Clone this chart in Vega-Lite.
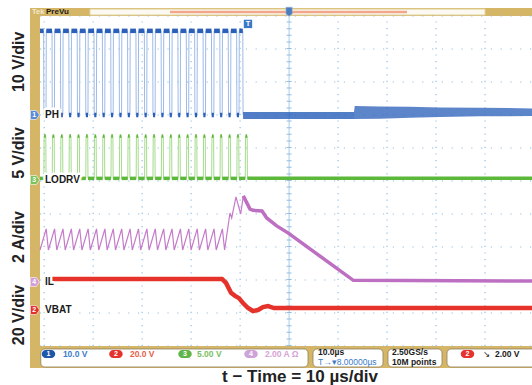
{
"$schema": "https://vega.github.io/schema/vega-lite/v6.json",
"width": 532, "height": 385,
"autosize": {"type": "none"},
"padding": 0,
"background": "#ffffff",
"config": {"view": {"stroke": null}, "axis": {"disable": true}, "legend": {"disable": true}},
"data": {"values": [{}]},
"datasets": {
"vgrid": [{"t":-50},{"t":-40},{"t":-30},{"t":-20},{"t":-10},{"t":10},{"t":20},{"t":30},{"t":40}],
"hgrid": [{"v":0},{"v":1},{"v":2},{"v":3},{"v":4},{"v":5},{"v":6},{"v":7},{"v":8},{"v":9},{"v":10}],
"ph": [
{"t":-50.85,"v":9.55},
{"t":-50.11,"v":9.55},{"t":-50.06,"v":7.0},{"t":-49.62,"v":7.0},{"t":-49.57,"v":9.55},
{"t":-48.40,"v":9.55},{"t":-48.35,"v":7.0},{"t":-47.91,"v":7.0},{"t":-47.86,"v":9.55},
{"t":-46.68,"v":9.55},{"t":-46.63,"v":7.0},{"t":-46.19,"v":7.0},{"t":-46.14,"v":9.55},
{"t":-44.97,"v":9.55},{"t":-44.92,"v":7.0},{"t":-44.48,"v":7.0},{"t":-44.43,"v":9.55},
{"t":-43.26,"v":9.55},{"t":-43.21,"v":7.0},{"t":-42.77,"v":7.0},{"t":-42.72,"v":9.55},
{"t":-41.55,"v":9.55},{"t":-41.50,"v":7.0},{"t":-41.06,"v":7.0},{"t":-41.01,"v":9.55},
{"t":-39.83,"v":9.55},{"t":-39.78,"v":7.0},{"t":-39.34,"v":7.0},{"t":-39.29,"v":9.55},
{"t":-38.12,"v":9.55},{"t":-38.07,"v":7.0},{"t":-37.63,"v":7.0},{"t":-37.58,"v":9.55},
{"t":-36.41,"v":9.55},{"t":-36.36,"v":7.0},{"t":-35.92,"v":7.0},{"t":-35.87,"v":9.55},
{"t":-34.69,"v":9.55},{"t":-34.64,"v":7.0},{"t":-34.20,"v":7.0},{"t":-34.15,"v":9.55},
{"t":-32.98,"v":9.55},{"t":-32.93,"v":7.0},{"t":-32.49,"v":7.0},{"t":-32.44,"v":9.55},
{"t":-31.27,"v":9.55},{"t":-31.22,"v":7.0},{"t":-30.78,"v":7.0},{"t":-30.73,"v":9.55},
{"t":-29.55,"v":9.55},{"t":-29.50,"v":7.0},{"t":-29.06,"v":7.0},{"t":-29.01,"v":9.55},
{"t":-27.84,"v":9.55},{"t":-27.79,"v":7.0},{"t":-27.35,"v":7.0},{"t":-27.30,"v":9.55},
{"t":-26.13,"v":9.55},{"t":-26.08,"v":7.0},{"t":-25.64,"v":7.0},{"t":-25.59,"v":9.55},
{"t":-24.42,"v":9.55},{"t":-24.37,"v":7.0},{"t":-23.93,"v":7.0},{"t":-23.88,"v":9.55},
{"t":-22.70,"v":9.55},{"t":-22.65,"v":7.0},{"t":-22.21,"v":7.0},{"t":-22.16,"v":9.55},
{"t":-20.99,"v":9.55},{"t":-20.94,"v":7.0},{"t":-20.50,"v":7.0},{"t":-20.45,"v":9.55},
{"t":-19.28,"v":9.55},{"t":-19.23,"v":7.0},{"t":-18.79,"v":7.0},{"t":-18.74,"v":9.55},
{"t":-17.56,"v":9.55},{"t":-17.51,"v":7.0},{"t":-17.07,"v":7.0},{"t":-17.02,"v":9.55},
{"t":-15.85,"v":9.55},{"t":-15.80,"v":7.0},{"t":-15.36,"v":7.0},{"t":-15.31,"v":9.55},
{"t":-14.14,"v":9.55},{"t":-14.09,"v":7.0},{"t":-13.65,"v":7.0},{"t":-13.60,"v":9.55},
{"t":-12.42,"v":9.55},{"t":-12.37,"v":7.0},{"t":-11.93,"v":7.0},{"t":-11.88,"v":9.55},
{"t":-10.71,"v":9.55},{"t":-10.66,"v":7.0},{"t":-10.22,"v":7.0},{"t":-10.17,"v":9.55},
{"t":-9.45,"v":9.55},{"t":-9.40,"v":7.0}
],
"phband": [
{"t":-9.40,"lo":6.88,"hi":7.09},
{"t":13.25,"lo":6.88,"hi":7.09},
{"t":13.40,"lo":6.88,"hi":7.27},
{"t":18.56,"lo":6.89,"hi":7.26},
{"t":24.68,"lo":6.92,"hi":7.25},
{"t":30.81,"lo":6.94,"hi":7.23},
{"t":38.97,"lo":6.96,"hi":7.22},
{"t":49.59,"lo":6.97,"hi":7.20}
],
"lodrv": [
{"t":-50.85,"v":5.08},
{"t":-50.06,"v":5.08},{"t":-50.01,"v":6.36},{"t":-49.67,"v":6.36},{"t":-49.62,"v":5.08},
{"t":-48.35,"v":5.08},{"t":-48.30,"v":6.36},{"t":-47.96,"v":6.36},{"t":-47.91,"v":5.08},
{"t":-46.63,"v":5.08},{"t":-46.58,"v":6.36},{"t":-46.24,"v":6.36},{"t":-46.19,"v":5.08},
{"t":-44.92,"v":5.08},{"t":-44.87,"v":6.36},{"t":-44.53,"v":6.36},{"t":-44.48,"v":5.08},
{"t":-43.21,"v":5.08},{"t":-43.16,"v":6.36},{"t":-42.82,"v":6.36},{"t":-42.77,"v":5.08},
{"t":-41.50,"v":5.08},{"t":-41.45,"v":6.36},{"t":-41.11,"v":6.36},{"t":-41.06,"v":5.08},
{"t":-39.78,"v":5.08},{"t":-39.73,"v":6.36},{"t":-39.39,"v":6.36},{"t":-39.34,"v":5.08},
{"t":-38.07,"v":5.08},{"t":-38.02,"v":6.36},{"t":-37.68,"v":6.36},{"t":-37.63,"v":5.08},
{"t":-36.36,"v":5.08},{"t":-36.31,"v":6.36},{"t":-35.97,"v":6.36},{"t":-35.92,"v":5.08},
{"t":-34.64,"v":5.08},{"t":-34.59,"v":6.36},{"t":-34.25,"v":6.36},{"t":-34.20,"v":5.08},
{"t":-32.93,"v":5.08},{"t":-32.88,"v":6.36},{"t":-32.54,"v":6.36},{"t":-32.49,"v":5.08},
{"t":-31.22,"v":5.08},{"t":-31.17,"v":6.36},{"t":-30.83,"v":6.36},{"t":-30.78,"v":5.08},
{"t":-29.50,"v":5.08},{"t":-29.45,"v":6.36},{"t":-29.11,"v":6.36},{"t":-29.06,"v":5.08},
{"t":-27.79,"v":5.08},{"t":-27.74,"v":6.36},{"t":-27.40,"v":6.36},{"t":-27.35,"v":5.08},
{"t":-26.08,"v":5.08},{"t":-26.03,"v":6.36},{"t":-25.69,"v":6.36},{"t":-25.64,"v":5.08},
{"t":-24.37,"v":5.08},{"t":-24.32,"v":6.36},{"t":-23.98,"v":6.36},{"t":-23.93,"v":5.08},
{"t":-22.65,"v":5.08},{"t":-22.60,"v":6.36},{"t":-22.26,"v":6.36},{"t":-22.21,"v":5.08},
{"t":-20.94,"v":5.08},{"t":-20.89,"v":6.36},{"t":-20.55,"v":6.36},{"t":-20.50,"v":5.08},
{"t":-19.23,"v":5.08},{"t":-19.18,"v":6.36},{"t":-18.84,"v":6.36},{"t":-18.79,"v":5.08},
{"t":-17.51,"v":5.08},{"t":-17.46,"v":6.36},{"t":-17.12,"v":6.36},{"t":-17.07,"v":5.08},
{"t":-15.80,"v":5.08},{"t":-15.75,"v":6.36},{"t":-15.41,"v":6.36},{"t":-15.36,"v":5.08},
{"t":-14.09,"v":5.08},{"t":-14.04,"v":6.36},{"t":-13.70,"v":6.36},{"t":-13.65,"v":5.08},
{"t":-12.37,"v":5.08},{"t":-12.32,"v":6.36},{"t":-11.98,"v":6.36},{"t":-11.93,"v":5.08},
{"t":-10.66,"v":5.08},{"t":-10.61,"v":6.36},{"t":-10.27,"v":6.36},{"t":-10.22,"v":5.08},
{"t":-8.95,"v":5.08},{"t":-8.90,"v":6.36},{"t":-8.56,"v":6.36},{"t":-8.51,"v":5.08},
{"t":49.59,"v":5.08}
],
"il": [
{"t":-50.85,"v":2.91},
{"t":-49.59,"v":3.55},{"t":-49.14,"v":2.91},
{"t":-47.88,"v":3.55},{"t":-47.43,"v":2.91},
{"t":-46.16,"v":3.55},{"t":-45.71,"v":2.91},
{"t":-44.45,"v":3.55},{"t":-44.00,"v":2.91},
{"t":-42.74,"v":3.55},{"t":-42.29,"v":2.91},
{"t":-41.03,"v":3.55},{"t":-40.58,"v":2.91},
{"t":-39.31,"v":3.55},{"t":-38.86,"v":2.91},
{"t":-37.60,"v":3.55},{"t":-37.15,"v":2.91},
{"t":-35.89,"v":3.55},{"t":-35.44,"v":2.91},
{"t":-34.17,"v":3.55},{"t":-33.72,"v":2.91},
{"t":-32.46,"v":3.55},{"t":-32.01,"v":2.91},
{"t":-30.75,"v":3.55},{"t":-30.30,"v":2.91},
{"t":-29.03,"v":3.55},{"t":-28.58,"v":2.91},
{"t":-27.32,"v":3.55},{"t":-26.87,"v":2.91},
{"t":-25.61,"v":3.55},{"t":-25.16,"v":2.91},
{"t":-23.90,"v":3.55},{"t":-23.45,"v":2.91},
{"t":-22.18,"v":3.55},{"t":-21.73,"v":2.91},
{"t":-20.47,"v":3.55},{"t":-20.02,"v":2.91},
{"t":-18.76,"v":3.55},{"t":-18.31,"v":2.91},
{"t":-17.04,"v":3.55},{"t":-16.59,"v":2.91},
{"t":-15.33,"v":3.55},{"t":-14.88,"v":2.91},
{"t":-13.62,"v":3.55},{"t":-13.17,"v":2.91},
{"t":-12.07,"v":4.03},{"t":-11.72,"v":3.88},{"t":-10.84,"v":4.52},{"t":-9.88,"v":4.00},{"t":-9.35,"v":4.55},
{"t":-7.98,"v":4.15},{"t":-7.37,"v":4.11},{"t":-5.53,"v":4.09},{"t":-4.57,"v":3.88},{"t":-2.53,"v":3.64},
{"t":-0.16,"v":3.42},{"t":13.11,"v":1.99},{"t":49.59,"v":1.97}
],
"vbat": [
{"t":-48.4,"v":2.03},{"t":-13.70,"v":2.03},{"t":-12.88,"v":1.91},{"t":-11.86,"v":1.61},{"t":-11.04,"v":1.52},
{"t":-10.23,"v":1.45},{"t":-9.41,"v":1.30},{"t":-8.39,"v":1.15},{"t":-7.37,"v":1.06},{"t":-6.35,"v":1.09},
{"t":-5.33,"v":1.18},{"t":-4.31,"v":1.21},{"t":-3.08,"v":1.15},{"t":-1.86,"v":1.15},{"t":49.59,"v":1.15}
],
"chan": [
{"name":"PH","n":"1","gnd":7.0},
{"name":"LODRV","n":"3","gnd":5.03},
{"name":"IL","n":"4","gnd":1.94},
{"name":"VBAT","n":"2","gnd":1.09}
]
},
"layer": [
{"mark": {"type": "rect", "color": "#d5b566"},
 "encoding": {
  "x": {"datum": -52.9, "type": "quantitative", "scale": {"domain": [-59.02, 49.59], "nice": false, "zero": false}, "axis": null},
  "x2": {"datum": 49.59},
  "y": {"datum": -0.667, "type": "quantitative", "scale": {"domain": [-1.182, 10.485], "nice": false, "zero": false}, "axis": null},
  "y2": {"datum": 10.242}}},
{"mark": {"type": "rect", "color": "#ffffff"},
 "encoding": {"x": {"datum": -50.85, "type": "quantitative"}, "x2": {"datum": 49.59}, "y": {"datum": 0, "type": "quantitative"}, "y2": {"datum": 10}}},
{"mark": {"type": "rect", "fill": "#fbf9f1", "stroke": "#e3d39c", "strokeWidth": 1},
 "encoding": {"x": {"datum": -40.65, "type": "quantitative"}, "x2": {"datum": 40.0}, "y": {"datum": 10.03, "type": "quantitative"}, "y2": {"datum": 10.21}}},
{"mark": {"type": "rule", "color": "#f2a78c", "strokeWidth": 2.5},
 "encoding": {"x": {"datum": -24.31, "type": "quantitative"}, "x2": {"datum": 24.07}, "y": {"datum": 10.12, "type": "quantitative"}}},
{"mark": {"type": "text", "text": "Tek", "align": "left", "baseline": "middle", "fontSize": 7.5, "fontWeight": "bold", "font": "Liberation Sans", "color": "#f3ead0"},
 "encoding": {"x": {"datum": -52.49, "type": "quantitative"}, "y": {"datum": 10.12, "type": "quantitative"}}},
{"mark": {"type": "text", "text": "PreVu", "align": "left", "baseline": "middle", "fontSize": 8, "fontWeight": "bold", "font": "Liberation Sans", "color": "#1a1a1a"},
 "encoding": {"x": {"datum": -49.63, "type": "quantitative"}, "y": {"datum": 10.12, "type": "quantitative"}}},
{"data": {"name": "vgrid"},
 "mark": {"type": "rule", "color": "#93bde3", "strokeWidth": 1.2, "strokeDash": [1.2, 5.4]},
 "encoding": {"x": {"field": "t", "type": "quantitative"}, "y": {"datum": 0, "type": "quantitative"}, "y2": {"datum": 10}}},
{"data": {"name": "hgrid"},
 "mark": {"type": "rule", "color": "#93bde3", "strokeWidth": 1.2, "strokeDash": [1.2, 8.6]},
 "encoding": {"y": {"field": "v", "type": "quantitative"}, "x": {"datum": -50.85, "type": "quantitative"}, "x2": {"datum": 49.59}}},
{"mark": {"type": "rule", "color": "#a9cbea", "strokeWidth": 1},
 "encoding": {"x": {"datum": 0, "type": "quantitative"}, "y": {"datum": 0, "type": "quantitative"}, "y2": {"datum": 10.1}}},
{"mark": {"type": "rule", "color": "#93bde3", "strokeWidth": 5, "strokeDash": [1, 5.6]},
 "encoding": {"x": {"datum": 0, "type": "quantitative"}, "y": {"datum": 0, "type": "quantitative"}, "y2": {"datum": 10}}},
{"data": {"name": "ph"},
 "mark": {"type": "line", "color": "#9dbbe8", "strokeWidth": 1},
 "encoding": {"x": {"field": "t", "type": "quantitative"}, "y": {"field": "v", "type": "quantitative"}}},
{"data": {"name": "ph"},
 "transform": [
  {"window": [{"op": "lead", "field": "t", "as": "t2"}, {"op": "lead", "field": "v", "as": "v2"}], "sort": [{"field": "t", "order": "ascending"}]},
  {"filter": "datum.t2 != null && datum.v2 === datum.v"}],
 "mark": {"type": "rule", "color": "#2b5fb8", "strokeWidth": 4.5, "strokeCap": "butt"},
 "encoding": {"x": {"field": "t", "type": "quantitative"}, "x2": {"field": "t2"}, "y": {"field": "v", "type": "quantitative"}}},
{"data": {"name": "phband"},
 "transform": [{"filter": "datum.t <= 13.25"}],
 "mark": {"type": "area", "color": "#3466bd", "opacity": 0.85},
 "encoding": {"x": {"field": "t", "type": "quantitative"}, "y": {"field": "lo", "type": "quantitative"}, "y2": {"field": "hi"}}},
{"data": {"name": "phband"},
 "transform": [{"filter": "datum.t >= 13.25"}],
 "mark": {"type": "area", "color": "#3466bd", "opacity": 0.8},
 "encoding": {"x": {"field": "t", "type": "quantitative"}, "y": {"field": "lo", "type": "quantitative"}, "y2": {"field": "hi"}}},
{"data": {"name": "lodrv"},
 "mark": {"type": "line", "color": "#a6dc8c", "strokeWidth": 1},
 "encoding": {"x": {"field": "t", "type": "quantitative"}, "y": {"field": "v", "type": "quantitative"}}},
{"data": {"name": "lodrv"},
 "transform": [
  {"window": [{"op": "lead", "field": "t", "as": "t2"}, {"op": "lead", "field": "v", "as": "v2"}], "sort": [{"field": "t", "order": "ascending"}]},
  {"filter": "datum.t2 != null && datum.v2 === datum.v"}],
 "mark": {"type": "rule", "color": "#5cb83a", "strokeWidth": 3.5, "strokeCap": "butt"},
 "encoding": {"x": {"field": "t", "type": "quantitative"}, "x2": {"field": "t2"}, "y": {"field": "v", "type": "quantitative"}}},
{"data": {"name": "il"},
 "transform": [{"filter": "datum.t <= -9.35"}],
 "mark": {"type": "line", "color": "#c57bc9", "strokeWidth": 1.2},
 "encoding": {"x": {"field": "t", "type": "quantitative"}, "y": {"field": "v", "type": "quantitative"}}},
{"data": {"name": "il"},
 "transform": [{"filter": "datum.t >= -9.35"}],
 "mark": {"type": "line", "color": "#bd6fc2", "strokeWidth": 3.5},
 "encoding": {"x": {"field": "t", "type": "quantitative"}, "y": {"field": "v", "type": "quantitative"}}},
{"data": {"name": "vbat"},
 "mark": {"type": "line", "color": "#e5322a", "strokeWidth": 4.5},
 "encoding": {"x": {"field": "t", "type": "quantitative"}, "y": {"field": "v", "type": "quantitative"}}},
{"data": {"name": "chan"},
 "mark": {"type": "text", "align": "left", "baseline": "middle", "fontSize": 10, "fontWeight": "bold", "font": "Liberation Sans", "fill": "#ffffff", "stroke": "#ffffff", "strokeWidth": 5, "strokeJoin": "round"},
 "encoding": {"x": {"datum": -49.83, "type": "quantitative"}, "y": {"field": "gnd", "type": "quantitative"}, "text": {"field": "name"}}},
{"data": {"name": "chan"},
 "mark": {"type": "text", "align": "left", "baseline": "middle", "fontSize": 10, "fontWeight": "bold", "font": "Liberation Sans", "fill": "#1a1a1a"},
 "encoding": {"x": {"datum": -49.83, "type": "quantitative"}, "y": {"field": "gnd", "type": "quantitative"}, "text": {"field": "name"}}},
{"data": {"name": "chan"},
 "mark": {"type": "point", "filled": true, "size": 81, "opacity": 1, "shape": "M -1 -1 L 0.3 -1 L 1 0 L 0.3 1 L -1 1 Z", "stroke": "#ffffff", "strokeWidth": 0.6},
 "encoding": {"x": {"datum": -51.87, "type": "quantitative"}, "y": {"field": "gnd", "type": "quantitative"},
  "color": {"field": "n", "type": "nominal", "scale": {"domain": ["1", "2", "3", "4"], "range": ["#5b8bd8", "#e3302b", "#7ac35a", "#d39ddb"]}, "legend": null}}},
{"data": {"name": "chan"},
 "mark": {"type": "text", "align": "center", "baseline": "middle", "fontSize": 7, "fontWeight": "bold", "font": "Liberation Sans", "fill": "#ffffff"},
 "encoding": {"x": {"datum": -52.05, "type": "quantitative"}, "y": {"field": "gnd", "type": "quantitative"}, "text": {"field": "n"}}},
{"mark": {"type": "point", "filled": true, "shape": "square", "size": 70, "color": "#3b78c6", "opacity": 1},
 "encoding": {"x": {"datum": -8.39, "type": "quantitative"}, "y": {"datum": 9.76, "type": "quantitative"}}},
{"mark": {"type": "text", "text": "T", "align": "center", "baseline": "middle", "fontSize": 7.5, "fontWeight": "bold", "font": "Liberation Sans", "fill": "#ffffff"},
 "encoding": {"x": {"datum": -8.39, "type": "quantitative"}, "y": {"datum": 9.76, "type": "quantitative"}}},
{"mark": {"type": "point", "filled": true, "shape": "M -0.7 -1 L 0.7 -1 L 0.7 0.5 L 0 1 L -0.7 0.5 Z", "size": 80, "color": "#4a7cc0", "opacity": 1, "stroke": "#9ab6dc", "strokeWidth": 0.6},
 "encoding": {"x": {"datum": 0, "type": "quantitative"}, "y": {"datum": 10.13, "type": "quantitative"}}},
{"mark": {"type": "text", "text": "10 V/div", "angle": 270, "align": "center", "baseline": "middle", "fontSize": 16, "fontWeight": "bold", "font": "Liberation Sans", "fill": "#222222"},
 "encoding": {"x": {"datum": -55.14, "type": "quantitative"}, "y": {"datum": 8.61, "type": "quantitative"}}},
{"mark": {"type": "text", "text": "5 V/div", "angle": 270, "align": "center", "baseline": "middle", "fontSize": 16, "fontWeight": "bold", "font": "Liberation Sans", "fill": "#222222"},
 "encoding": {"x": {"datum": -55.14, "type": "quantitative"}, "y": {"datum": 5.85, "type": "quantitative"}}},
{"mark": {"type": "text", "text": "2 A/div", "angle": 270, "align": "center", "baseline": "middle", "fontSize": 16, "fontWeight": "bold", "font": "Liberation Sans", "fill": "#222222"},
 "encoding": {"x": {"datum": -55.14, "type": "quantitative"}, "y": {"datum": 3.30, "type": "quantitative"}}},
{"mark": {"type": "text", "text": "20 V/div", "angle": 270, "align": "center", "baseline": "middle", "fontSize": 16, "fontWeight": "bold", "font": "Liberation Sans", "fill": "#222222"},
 "encoding": {"x": {"datum": -55.14, "type": "quantitative"}, "y": {"datum": 0.94, "type": "quantitative"}}},
{"mark": {"type": "text", "text": "t − Time = 10 µs/div", "align": "center", "baseline": "alphabetic", "fontSize": 17, "fontWeight": "bold", "font": "Liberation Sans", "fill": "#222222"},
 "encoding": {"x": {"datum": 2.23, "type": "quantitative"}, "y": {"datum": -1.09, "type": "quantitative"}}},
{"mark": {"type": "rect", "fill": "#ffffff", "stroke": "#8f8060", "strokeWidth": 0.8, "cornerRadius": 4},
 "encoding": {"x": {"datum": -50.7, "type": "quantitative"}, "x2": {"datum": 3.86}, "y": {"datum": -0.636, "type": "quantitative"}, "y2": {"datum": -0.091}}},
{"mark": {"type": "rect", "fill": "#ffffff", "stroke": "#8f8060", "strokeWidth": 0.8, "cornerRadius": 4},
 "encoding": {"x": {"datum": 4.88, "type": "quantitative"}, "x2": {"datum": 19.17}, "y": {"datum": -0.636, "type": "quantitative"}, "y2": {"datum": -0.091}}},
{"mark": {"type": "rect", "fill": "#ffffff", "stroke": "#8f8060", "strokeWidth": 0.8, "cornerRadius": 4},
 "encoding": {"x": {"datum": 20.19, "type": "quantitative"}, "x2": {"datum": 31.22}, "y": {"datum": -0.636, "type": "quantitative"}, "y2": {"datum": -0.091}}},
{"mark": {"type": "rect", "fill": "#ffffff", "stroke": "#8f8060", "strokeWidth": 0.8, "cornerRadius": 4},
 "encoding": {"x": {"datum": 32.24, "type": "quantitative"}, "x2": {"datum": 52}, "y": {"datum": -0.636, "type": "quantitative"}, "y2": {"datum": -0.091}}},
{"mark": {"type": "point", "filled": true, "opacity": 1, "size": 100, "color": "#1e56a8", "shape": "M -0.55 -0.8 L 0.55 -0.8 A 0.8 0.8 0 0 1 0.55 0.8 L -0.55 0.8 A 0.8 0.8 0 0 1 -0.55 -0.8 Z"},
 "encoding": {"x": {"datum": -49.12, "type": "quantitative"}, "y": {"datum": -0.243, "type": "quantitative"}}},
{"mark": {"type": "point", "filled": true, "opacity": 1, "size": 100, "color": "#e5322d", "shape": "M -0.55 -0.8 L 0.55 -0.8 A 0.8 0.8 0 0 1 0.55 0.8 L -0.55 0.8 A 0.8 0.8 0 0 1 -0.55 -0.8 Z"},
 "encoding": {"x": {"datum": -35.35, "type": "quantitative"}, "y": {"datum": -0.243, "type": "quantitative"}}},
{"mark": {"type": "point", "filled": true, "opacity": 1, "size": 100, "color": "#5fb54a", "shape": "M -0.55 -0.8 L 0.55 -0.8 A 0.8 0.8 0 0 1 0.55 0.8 L -0.55 0.8 A 0.8 0.8 0 0 1 -0.55 -0.8 Z"},
 "encoding": {"x": {"datum": -21.25, "type": "quantitative"}, "y": {"datum": -0.243, "type": "quantitative"}}},
{"mark": {"type": "point", "filled": true, "opacity": 1, "size": 100, "color": "#cda3d9", "shape": "M -0.55 -0.8 L 0.55 -0.8 A 0.8 0.8 0 0 1 0.55 0.8 L -0.55 0.8 A 0.8 0.8 0 0 1 -0.55 -0.8 Z"},
 "encoding": {"x": {"datum": -7.78, "type": "quantitative"}, "y": {"datum": -0.243, "type": "quantitative"}}},
{"mark": {"type": "point", "filled": true, "opacity": 1, "size": 100, "color": "#e5322d", "shape": "M -0.55 -0.8 L 0.55 -0.8 A 0.8 0.8 0 0 1 0.55 0.8 L -0.55 0.8 A 0.8 0.8 0 0 1 -0.55 -0.8 Z"},
 "encoding": {"x": {"datum": 36.42, "type": "quantitative"}, "y": {"datum": -0.243, "type": "quantitative"}}},
{"mark": {"type": "text", "text": "1", "align": "center", "baseline": "middle", "fontSize": 7, "fontWeight": "bold", "font": "Liberation Sans", "fill": "#ffffff"},
 "encoding": {"x": {"datum": -49.12, "type": "quantitative"}, "y": {"datum": -0.243, "type": "quantitative"}}},
{"mark": {"type": "text", "text": "2", "align": "center", "baseline": "middle", "fontSize": 7, "fontWeight": "bold", "font": "Liberation Sans", "fill": "#ffffff"},
 "encoding": {"x": {"datum": -35.35, "type": "quantitative"}, "y": {"datum": -0.243, "type": "quantitative"}}},
{"mark": {"type": "text", "text": "3", "align": "center", "baseline": "middle", "fontSize": 7, "fontWeight": "bold", "font": "Liberation Sans", "fill": "#ffffff"},
 "encoding": {"x": {"datum": -21.25, "type": "quantitative"}, "y": {"datum": -0.243, "type": "quantitative"}}},
{"mark": {"type": "text", "text": "4", "align": "center", "baseline": "middle", "fontSize": 7, "fontWeight": "bold", "font": "Liberation Sans", "fill": "#ffffff"},
 "encoding": {"x": {"datum": -7.78, "type": "quantitative"}, "y": {"datum": -0.243, "type": "quantitative"}}},
{"mark": {"type": "text", "text": "2", "align": "center", "baseline": "middle", "fontSize": 7, "fontWeight": "bold", "font": "Liberation Sans", "fill": "#ffffff"},
 "encoding": {"x": {"datum": 36.42, "type": "quantitative"}, "y": {"datum": -0.243, "type": "quantitative"}}},
{"mark": {"type": "text", "text": "10.0 V", "align": "left", "baseline": "middle", "fontSize": 8.5, "fontWeight": "bold", "font": "Liberation Sans", "fill": "#3d7cc9"},
 "encoding": {"x": {"datum": -46.18, "type": "quantitative"}, "y": {"datum": -0.243, "type": "quantitative"}}},
{"mark": {"type": "text", "text": "20.0 V", "align": "left", "baseline": "middle", "fontSize": 8.5, "fontWeight": "bold", "font": "Liberation Sans", "fill": "#e8604a"},
 "encoding": {"x": {"datum": -32.5, "type": "quantitative"}, "y": {"datum": -0.243, "type": "quantitative"}}},
{"mark": {"type": "text", "text": "5.00 V", "align": "left", "baseline": "middle", "fontSize": 8.5, "fontWeight": "bold", "font": "Liberation Sans", "fill": "#7cc063"},
 "encoding": {"x": {"datum": -18.8, "type": "quantitative"}, "y": {"datum": -0.243, "type": "quantitative"}}},
{"mark": {"type": "text", "text": "2.00 A Ω", "align": "left", "baseline": "middle", "fontSize": 8.5, "fontWeight": "bold", "font": "Liberation Sans", "fill": "#d6a2d8"},
 "encoding": {"x": {"datum": -4.92, "type": "quantitative"}, "y": {"datum": -0.243, "type": "quantitative"}}},
{"mark": {"type": "text", "text": "10.0µs", "align": "left", "baseline": "middle", "fontSize": 8.5, "fontWeight": "bold", "font": "Liberation Sans", "fill": "#1a1a1a"},
 "encoding": {"x": {"datum": 5.9, "type": "quantitative"}, "y": {"datum": -0.167, "type": "quantitative"}}},
{"mark": {"type": "text", "text": "T→▾8.00000µs", "align": "left", "baseline": "middle", "fontSize": 8.5, "font": "Liberation Sans", "fill": "#3d7cc9"},
 "encoding": {"x": {"datum": 5.9, "type": "quantitative"}, "y": {"datum": -0.47, "type": "quantitative"}}},
{"mark": {"type": "text", "text": "2.50GS/s", "align": "left", "baseline": "middle", "fontSize": 8.5, "fontWeight": "bold", "font": "Liberation Sans", "fill": "#1a1a1a"},
 "encoding": {"x": {"datum": 21.01, "type": "quantitative"}, "y": {"datum": -0.167, "type": "quantitative"}}},
{"mark": {"type": "text", "text": "10M points", "align": "left", "baseline": "middle", "fontSize": 8.5, "fontWeight": "bold", "font": "Liberation Sans", "fill": "#1a1a1a"},
 "encoding": {"x": {"datum": 21.01, "type": "quantitative"}, "y": {"datum": -0.47, "type": "quantitative"}}},
{"mark": {"type": "text", "text": "↘", "align": "left", "baseline": "middle", "fontSize": 8.5, "font": "DejaVu Sans", "fill": "#1a1a1a"},
 "encoding": {"x": {"datum": 39.58, "type": "quantitative"}, "y": {"datum": -0.243, "type": "quantitative"}}},
{"mark": {"type": "text", "text": "2.00 V", "align": "left", "baseline": "middle", "fontSize": 8.5, "fontWeight": "bold", "font": "Liberation Sans", "fill": "#1a1a1a"},
 "encoding": {"x": {"datum": 42.03, "type": "quantitative"}, "y": {"datum": -0.243, "type": "quantitative"}}}
]
}
